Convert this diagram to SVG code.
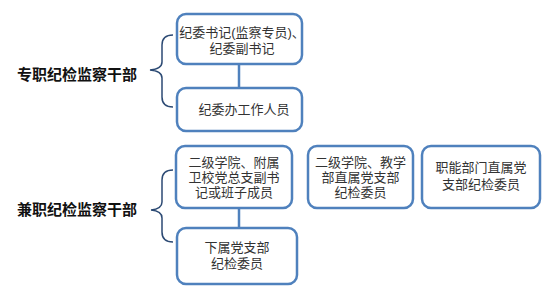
<svg xmlns="http://www.w3.org/2000/svg" width="550" height="295" viewBox="0 0 550 295">
<style>
.box{fill:#fff;stroke:#4f81bd;stroke-width:2.5}
.t{font-family:"Liberation Sans","Noto Sans CJK SC",sans-serif;font-size:13px;fill:#333;text-anchor:middle}
.h{font-family:"Liberation Sans","Noto Sans CJK SC",sans-serif;font-size:15px;font-weight:bold;fill:#111;text-anchor:middle}
.brace{fill:none;stroke:#2c4a74;stroke-width:1.5}
.link{stroke:#4f81bd;stroke-width:2.5;fill:none}
</style>
<rect width="550" height="295" fill="#fff"/>
<g id="connectors">
<line class="link" x1="239" y1="64" x2="239" y2="88"/>
<line class="link" x1="239" y1="208" x2="239" y2="228"/>
<path class="brace" d="M173,35 Q162,35 162,45 L162,62 Q162,69 150,70 Q162,71 162,78 L162,97 Q162,107 173,107"/>
<path class="brace" d="M173,170 Q162,170 162,180 L162,202 Q162,209 151,210 Q162,211 162,218 L162,232 Q162,242 173,242"/>
</g>
<g id="label-fulltime"><text class="h" x="77" y="80">专职纪检监察干部</text></g>
<g id="label-parttime"><text class="h" x="77" y="215">兼职纪检监察干部</text></g>
<g id="node1">
<rect class="box" x="177" y="14" width="125" height="50" rx="9"/>
<text class="t" x="242" y="37">纪委书记(监察专员)、</text>
<text class="t" x="242" y="53">纪委副书记</text>
</g>
<g id="node2">
<rect class="box" x="177" y="88" width="125" height="43" rx="9"/>
<text class="t" x="244" y="114">纪委办工作人员</text>
</g>
<g id="node3">
<rect class="box" x="176" y="146" width="116" height="62" rx="9"/>
<text class="t" x="234" y="167">二级学院、附属</text>
<text class="t" x="234" y="182">卫校党总支副书</text>
<text class="t" x="234" y="197">记或班子成员</text>
</g>
<g id="node4">
<rect class="box" x="308" y="146" width="105" height="62" rx="9"/>
<text class="t" x="360.5" y="167">二级学院、教学</text>
<text class="t" x="360.5" y="182">部直属党支部</text>
<text class="t" x="360.5" y="197">纪检委员</text>
</g>
<g id="node5">
<rect class="box" x="422" y="146" width="118" height="62" rx="9"/>
<text class="t" x="481" y="172">职能部门直属党</text>
<text class="t" x="481" y="189">支部纪检委员</text>
</g>
<g id="node6">
<rect class="box" x="177" y="228" width="120" height="56" rx="9"/>
<text class="t" x="237" y="252">下属党支部</text>
<text class="t" x="237" y="268">纪检委员</text>
</g>
</svg>
